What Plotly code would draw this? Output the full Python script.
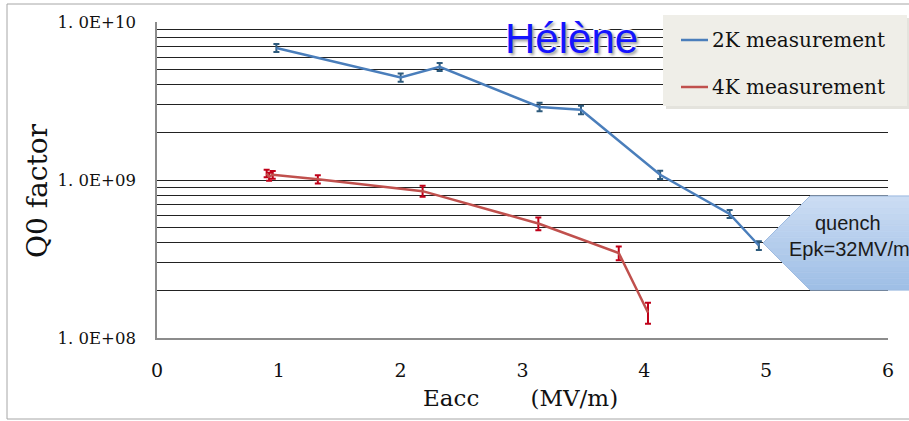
import plotly.graph_objects as go

# Q0 vs accelerating field, cavity "Hélène"
eacc_2k = [0.98, 2.00, 2.32, 3.14, 3.48, 4.13, 4.70, 4.94]
q0_2k = [6.85e9, 4.45e9, 5.2e9, 2.9e9, 2.78e9, 1.08e9, 6.1e8, 3.85e8]
q0_2k_err = [4.0e8, 2.7e8, 3.0e8, 1.8e8, 1.7e8, 6.5e7, 3.5e7, 2.4e7]

eacc_4k = [0.90, 0.92, 0.95, 1.32, 2.18, 3.13, 3.79, 4.03]
q0_4k = [1.10e9, 1.05e9, 1.08e9, 1.01e9, 8.5e8, 5.3e8, 3.45e8, 1.45e8]
q0_4k_err = [6e7, 6e7, 6e7, 6e7, 6.8e7, 5.0e7, 3.5e7, 2.2e7]

x_ticks = [0, 1, 2, 3, 4, 5, 6]
y_decades = [1e8, 1e9, 1e10]
y_decade_labels = ["1. 0E+08", "1. 0E+09", "1. 0E+10"]

# grid at every 1..9 x 10^n, labels only on the decades
y_tickvals = []
y_ticktext = []
for d in (1e8, 1e9):
    for k in range(1, 10):
        v = k * d
        y_tickvals.append(v)
        y_ticktext.append(y_decade_labels[y_decades.index(d)] if k == 1 else "")
y_tickvals.append(1e10)
y_ticktext.append(y_decade_labels[2])

W, H = 909, 421
L, R, T, B = 157, 21, 22, 83
PW, PH = W - L - R, H - T - B


def px(xp):
    return (xp - L) / PW


def py(yp):
    return (H - B - yp) / PH


BLUE = "#4a7ebb"
RED = "#c0504d"

fig = go.Figure()
fig.add_trace(go.Scatter(
    x=eacc_2k, y=q0_2k, mode="lines", name="2K measurement",
    line=dict(color=BLUE, width=2.5),
    error_y=dict(type="data", array=q0_2k_err, color="#2d5a7c", thickness=2, width=3),
    showlegend=False,
))
fig.add_trace(go.Scatter(
    x=eacc_4k, y=q0_4k, mode="lines", name="4K measurement",
    line=dict(color=RED, width=2.5),
    error_y=dict(type="data", array=q0_4k_err, color="#c00018", thickness=2, width=3),
    showlegend=False,
))

shapes = []
annotations = []

# outer chart frame
shapes.append(dict(type="rect", xref="paper", yref="paper",
                   x0=px(7), x1=px(914), y0=py(419), y1=py(4),
                   line=dict(color="#a6a6a6", width=1), fillcolor="rgba(0,0,0,0)", layer="below"))

# legend box with a soft shadow
shapes.append(dict(type="rect", xref="paper", yref="paper",
                   x0=px(666), x1=px(911), y0=py(109), y1=py(18),
                   line=dict(width=0), fillcolor="#e4e3dd"))
shapes.append(dict(type="rect", xref="paper", yref="paper",
                   x0=px(663), x1=px(907), y0=py(106), y1=py(15),
                   line=dict(width=0), fillcolor="#efeee8"))
for yy, col, label in ((40, BLUE, "2K measurement"), (87, RED, "4K measurement")):
    shapes.append(dict(type="line", xref="paper", yref="paper",
                       x0=px(681), x1=px(708), y0=py(yy), y1=py(yy),
                       line=dict(color=col, width=2.5)))
    annotations.append(dict(xref="paper", yref="paper", x=px(710), y=py(yy),
                            xanchor="left", yanchor="middle", showarrow=False,
                            text=label, font=dict(family="DejaVu Serif", size=20, color="#111")))

# quench callout arrow, filled in horizontal bands for a top-to-bottom gradient
TIP_X, TIP_Y, BOX_X, TOP_Y, BOT_Y, RIGHT_X = 763, 243, 810, 196, 290, 915


def left_edge(yp):
    if yp <= TIP_Y:
        return BOX_X - (BOX_X - TIP_X) * (yp - TOP_Y) / (TIP_Y - TOP_Y)
    return TIP_X + (BOX_X - TIP_X) * (yp - TIP_Y) / (BOT_Y - TIP_Y)


c_top = (204, 221, 243)
c_bot = (158, 190, 230)
n_bands = 16
for i in range(n_bands):
    ya = TOP_Y + (BOT_Y - TOP_Y) * i / n_bands
    yb = TOP_Y + (BOT_Y - TOP_Y) * (i + 1) / n_bands
    pts = [(left_edge(ya), ya)]
    if ya < TIP_Y < yb:
        pts.append((TIP_X, TIP_Y))
    pts += [(left_edge(yb), yb), (RIGHT_X, yb), (RIGHT_X, ya)]
    t = (i + 0.5) / n_bands
    col = "rgb({},{},{})".format(*[round(a + (b - a) * t) for a, b in zip(c_top, c_bot)])
    path = "M " + " L ".join("{} {}".format(px(a), py(b)) for a, b in pts) + " Z"
    shapes.append(dict(type="path", xref="paper", yref="paper", path=path,
                       fillcolor=col, line=dict(color=col, width=0.6)))
outline = "M {} {} L {} {} L {} {} M {} {} L {} {} L {} {}".format(
    px(RIGHT_X), py(TOP_Y), px(BOX_X), py(TOP_Y), px(TIP_X), py(TIP_Y),
    px(TIP_X), py(TIP_Y), px(BOX_X), py(BOT_Y), px(RIGHT_X), py(BOT_Y))
shapes.append(dict(type="path", xref="paper", yref="paper", path=outline,
                   line=dict(color="#9fbbe0", width=1)))
annotations.append(dict(xref="paper", yref="paper", x=px(848), y=py(223),
                        xanchor="center", yanchor="middle", showarrow=False,
                        text="quench", font=dict(family="Liberation Sans", size=20, color="#1a1a1a")))
annotations.append(dict(xref="paper", yref="paper", x=px(787), y=py(249),
                        xanchor="left", yanchor="middle", showarrow=False,
                        text="Epk=32MV/m", font=dict(family="Liberation Sans", size=20, color="#1a1a1a")))

# cavity name
annotations.append(dict(xref="paper", yref="paper", x=px(571), y=py(39),
                        xanchor="center", yanchor="middle", showarrow=False,
                        text="Hélène",
                        font=dict(family="Liberation Sans", size=42, color="#1414ff",
                                  shadow="2px 2px 3px #999, -1px -1px 0 #fff, 1px -1px 0 #fff, -1px 1px 0 #fff, 1px 1px 0 #fff")))

# axis titles
annotations.append(dict(xref="paper", yref="paper", x=px(38), y=py(190),
                        xanchor="center", yanchor="middle", showarrow=False, textangle=-90,
                        text="Q0 factor", font=dict(family="DejaVu Serif", size=28, color="#111")))
annotations.append(dict(xref="paper", yref="paper", x=px(520), y=py(398),
                        xanchor="center", yanchor="middle", showarrow=False,
                        text="Eacc" + "\u00a0" * 7 + "(MV/m)",
                        font=dict(family="DejaVu Serif", size=23, color="#111")))

fig.update_layout(
    width=W, height=H,
    margin=dict(l=L, r=R, t=T, b=B, autoexpand=False),
    paper_bgcolor="white", plot_bgcolor="white",
    shapes=shapes, annotations=annotations,
    showlegend=False,
    xaxis=dict(range=[0, 6], tickvals=x_ticks, showgrid=False, zeroline=False,
               showline=True, linecolor="#8c8c8c", linewidth=1.5, ticks="",
               ticklabelstandoff=14,
               tickfont=dict(family="DejaVu Serif", size=19, color="#111")),
    yaxis=dict(type="log", range=[8, 10], tickvals=y_tickvals, ticktext=y_ticktext,
               showgrid=True, gridcolor="#222222", gridwidth=1, zeroline=False,
               showline=True, linecolor="#8c8c8c", linewidth=1.5, ticks="",
               ticklabelstandoff=16,
               tickfont=dict(family="DejaVu Serif", size=16.5, color="#111")),
)

fig.write_html("out.html")
